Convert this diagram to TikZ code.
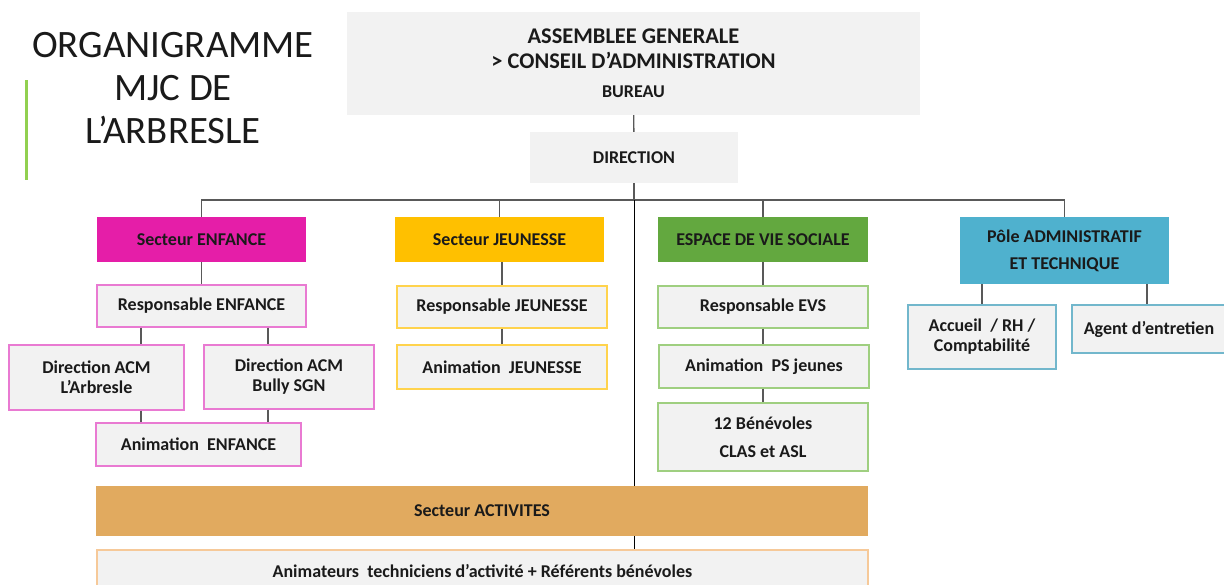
\documentclass[tikz,border=0pt]{standalone}
\usepackage{fontspec}
\setmainfont{Carlito}

\definecolor{boxgrey}{HTML}{F2F2F2}
\definecolor{linegrey}{HTML}{595959}
\definecolor{inkblack}{HTML}{1A1A1A}
\definecolor{titlegreen}{HTML}{92D050}
\definecolor{enfancefill}{HTML}{E51EA8}
\definecolor{enfanceline}{HTML}{E97AD2}
\definecolor{jeunessefill}{HTML}{FFC000}
\definecolor{jeunesseline}{HTML}{FFD34D}
\definecolor{evsfill}{HTML}{63A83F}
\definecolor{evsline}{HTML}{9FCF80}
\definecolor{polefill}{HTML}{4FB1CE}
\definecolor{poleline}{HTML}{72B7CC}
\definecolor{activfill}{HTML}{E1AA5F}
\definecolor{activline}{HTML}{F6C999}

\newcommand\boxfont{\fontsize{18}{20}\selectfont\bfseries}
\newcommand\titlefont{\fontsize{38.8}{43}\selectfont}
\newcommand\agfont{\fontsize{22.4}{25}\selectfont\bfseries}

\tikzset{
  sector/.style={fill=#1, inner sep=0pt},
  item/.style={draw=#1, fill=boxgrey, line width=1.2pt, inner sep=0pt},
  link/.style={draw=linegrey, line width=1.3pt},
  spine/.style={draw=black, line width=1pt}
}

\begin{document}
\begin{tikzpicture}[x=1pt,y=-1pt]
\tikzstyle{every node}+=[align=center, font=\boxfont, text=inkblack]
\useasboundingbox (0,0) rectangle (1224,585);
% title
\node [font=\titlefont] (title) at (173,88) {ORGANIGRAMME\\MJC DE\\L’ARBRESLE};
\fill [titlegreen] (25,80) rectangle (27.5,180);
% top of the chart
\node [sector=boxgrey, font=\agfont, minimum width=573pt, minimum height=103pt] (ag) at (633.5,63.5)
  {ASSEMBLEE GENERALE\\ > CONSEIL D’ADMINISTRATION\\[4pt] {\fontsize{18}{20}\selectfont BUREAU}};
\node [sector=boxgrey, minimum width=208pt, minimum height=51pt] (dir) at (634,157.5) {DIRECTION};
\coordinate (bus) at (634,200);
% sectors
\node [sector=enfancefill, minimum width=209pt, minimum height=45pt] (enf) at (201.5,239.5) {Secteur ENFANCE};
\node [sector=jeunessefill, minimum width=209pt, minimum height=45pt] (jeu) at (499.5,239.5) {Secteur JEUNESSE};
\node [sector=evsfill, minimum width=210pt, minimum height=45pt] (evs) at (763,239.5) {ESPACE DE VIE SOCIALE};
\node [sector=polefill, minimum width=209pt, minimum height=67pt] (pole) at (1064.5,250.5)
  {Pôle ADMINISTRATIF\\[7pt] ET TECHNIQUE};
% enfance
\node [item=enfanceline, minimum width=209pt, minimum height=42pt] (respenf) at (201.5,306) {Responsable ENFANCE};
\node [item=enfanceline, minimum width=175pt, minimum height=65pt] (acmarb) at (96.5,377.5) {Direction ACM\\L’Arbresle};
\node [item=enfanceline, minimum width=170pt, minimum height=64pt] (acmbully) at (289,377) {Direction ACM\\Bully SGN};
\node [item=enfanceline, minimum width=205pt, minimum height=43pt] (animenf) at (198.5,444.5) {Animation~ ENFANCE};
% jeunesse
\node [item=jeunesseline, minimum width=210pt, minimum height=42pt] (respjeu) at (502,307) {Responsable JEUNESSE};
\node [item=jeunesseline, minimum width=210pt, minimum height=44pt] (animjeu) at (502,367) {Animation~ JEUNESSE};
% espace de vie sociale
\node [item=evsline, minimum width=210pt, minimum height=42pt] (respevs) at (763,307) {Responsable EVS};
\node [item=evsline, minimum width=210pt, minimum height=43pt] (animps) at (764,366.5) {Animation~ PS jeunes};
\node [item=evsline, minimum width=210pt, minimum height=68pt] (benev) at (763,437) {12 Bénévoles\\[8pt] CLAS et ASL};
% pole administratif
\node [item=poleline, minimum width=148pt, minimum height=64pt] (accueil) at (982,337) {Accueil~ / RH /\\Comptabilité};
\node [item=poleline, minimum width=154pt, minimum height=48pt] (agent) at (1149,329) {Agent d’entretien};
% activites
\node [sector=activfill, minimum width=772pt, minimum height=50pt] (act) at (482,511) {Secteur ACTIVITES};
\node [item=activline, minimum width=771pt, minimum height=42pt] (anim) at (482.5,571)
  {Animateurs~ techniciens d’activité + Référents bénévoles};
% links
\draw [link] (ag) -- (dir);
\draw [link] (dir) -- (bus);
\draw [link] (enf.north) |- (bus) -| (pole.north);
\draw [link] (jeu.north) |- (bus);
\draw [link] (evs.north) |- (bus);
\draw [spine] (bus) -- (act.north -| bus);
\draw [spine] (act.south -| bus) -- (anim.north -| bus);
\draw [link] (enf) -- (respenf);
\draw [link] (respenf.south -| 141,0) -- (acmarb.north -| 141,0);
\draw [link] (respenf.south -| 268,0) -- (acmbully.north -| 268,0);
\draw [link] (acmarb.south -| 141,0) -- (animenf.north -| 141,0);
\draw [link] (acmbully.south -| 268,0) -- (animenf.north -| 268,0);
\draw [link] (jeu.south -| respjeu) -- (respjeu);
\draw [link] (respjeu) -- (animjeu);
\draw [link] (evs) -- (respevs);
\draw [link] (respevs.south) -- (animps.north -| respevs);
\draw [link] (animps.south -| benev) -- (benev);
\draw [link] (pole.south -| accueil) -- (accueil);
\draw [link] (pole.south -| 1147,0) -- (agent.north -| 1147,0);
\end{tikzpicture}
\end{document}
